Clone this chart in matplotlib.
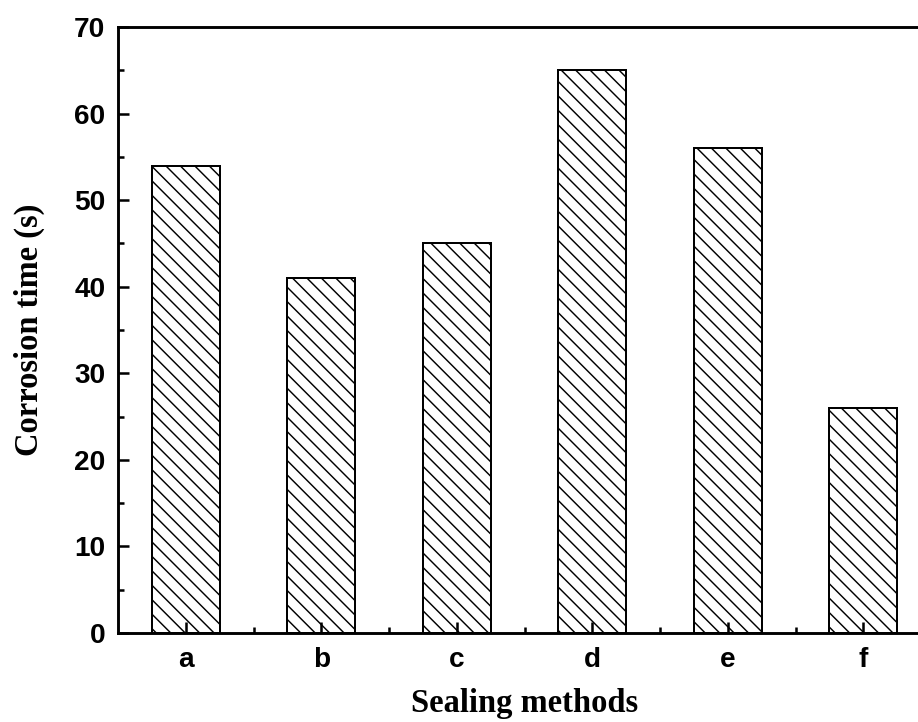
import matplotlib
matplotlib.use("Agg")
import matplotlib.pyplot as plt
from matplotlib.ticker import MultipleLocator, FixedLocator

# data
methods = ['a', 'b', 'c', 'd', 'e', 'f']
corrosion_time = [54, 41, 45, 65, 56, 26]

DPI = 130
plt.rcParams['hatch.linewidth'] = 0.8

fig = plt.figure(figsize=(918 / DPI, 722 / DPI), dpi=DPI)
# right spine sits just outside the picture, like in the original scan
ax = fig.add_axes([118 / 918, 89 / 722, 813 / 918, 606 / 722])

x = list(range(len(methods)))
ax.bar(x, corrosion_time, width=0.5, color='white', edgecolor='black',
       linewidth=1.1, hatch='\\\\\\')

ax.set_xlim(-0.5, len(methods) - 0.5)
ax.set_ylim(0, 70)
ax.set_xticks(x)
ax.set_xticklabels(methods)
ax.xaxis.set_minor_locator(FixedLocator([i + 0.5 for i in x[:-1]]))
ax.yaxis.set_major_locator(MultipleLocator(10))
ax.yaxis.set_minor_locator(MultipleLocator(5))

for s in ax.spines.values():
    s.set_linewidth(1.6)

ax.tick_params(which='both', direction='in', width=1.4, top=False, right=False)
ax.tick_params(which='major', length=6)
ax.tick_params(which='minor', length=3.3)
ax.tick_params(axis='x', which='major', pad=8)
ax.tick_params(axis='y', which='major', pad=7)

for lab in ax.get_xticklabels() + ax.get_yticklabels():
    lab.set_fontfamily('Liberation Sans')
    lab.set_fontweight('bold')
    lab.set_fontsize(15.5)

ax.set_xlabel('Sealing methods', fontfamily='Liberation Serif',
              fontweight='bold', fontsize=18, labelpad=8)
ax.set_ylabel('Corrosion time (s)', fontfamily='Liberation Serif',
              fontweight='bold', fontsize=18, labelpad=16)

fig.savefig('out.png', dpi=DPI)
